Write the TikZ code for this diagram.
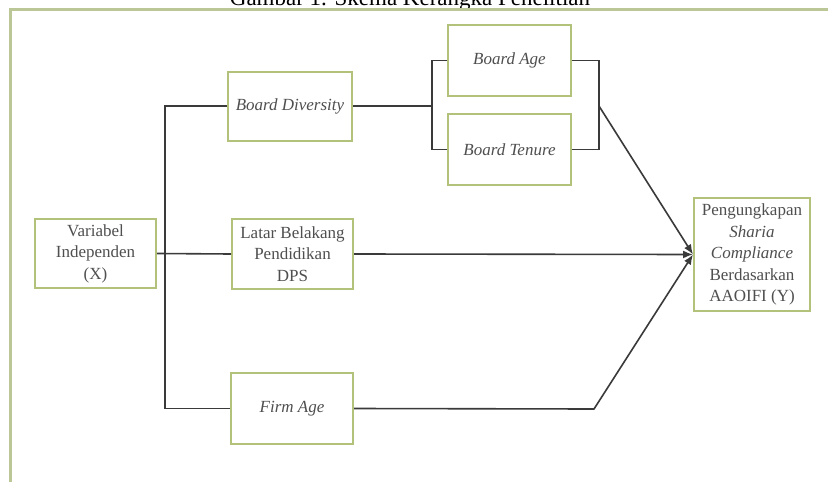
\documentclass[tikz,border=0pt]{standalone}
\usepackage{fontspec}
\setmainfont{Liberation Serif}
\usetikzlibrary{arrows.meta}
\definecolor{boxline}{HTML}{B3C27A}
\definecolor{frameline}{HTML}{BCC797}
\definecolor{conn}{HTML}{3A3A3A}
\definecolor{txt}{HTML}{4F4F4F}
\begin{document}
\begin{tikzpicture}[x=1pt,y=-1pt,
  vbox/.style={draw=boxline, line width=2pt, fill=white, inner sep=0pt,
    align=center, text=txt, font=\fontsize{17}{21.5}\selectfont},
  conline/.style={draw=conn, line width=1.6pt},
  arr/.style={conline, -{Latex[length=10pt,width=8pt]}}]
\useasboundingbox (0,0) rectangle (828,482);
\fill[white] (0,0) rectangle (828,482);
% title (cut off at the top, as in the reference)
\node[anchor=base, font=\fontsize{23}{27}\selectfont, text=black] (title) at (410,5) {Gambar 1. Skema Kerangka Penelitian};
% outer frame
\draw[frameline, line width=3pt] (10,490) -- (10,9) -- (840,9);
% boxes
\node[vbox, minimum width=121pt, minimum height=69pt] (X) at (95.5,253.5) {Variabel\\Independen\\(X)};
\node[vbox, minimum width=124pt, minimum height=69pt] (BD) at (290,106) {\itshape Board Diversity};
\node[vbox, minimum width=121pt, minimum height=70pt] (LB) at (292.5,254) {Latar Belakang\\Pendidikan\\DPS};
\node[vbox, minimum width=122pt, minimum height=71pt] (FA) at (292,408.5) {\itshape Firm Age};
\node[vbox, minimum width=123pt, minimum height=71pt] (BA) at (509.5,60.5) {\itshape Board Age};
\node[vbox, minimum width=123pt, minimum height=71pt] (BT) at (509.5,149.5) {\itshape Board Tenure};
\node[vbox, minimum width=116pt, minimum height=113pt] (Y) at (752,254.5) {Pengungkapan\\\textit{Sharia}\\\textit{Compliance}\\Berdasarkan\\AAOIFI (Y)};
% junction coordinates
\coordinate (j) at (165,254);
\coordinate (lb) at (432,106);
\coordinate (rb) at (599,106);
\coordinate (fk) at (594,409);
% connectors
\draw[conline] (X.east) -- (LB.west);
\draw[conline] (BD.west) -| (j) |- (FA.west);
\draw[conline] (BD.east) -- (lb);
\draw[conline] (BA.west) -| (lb) |- (BT.west);
\draw[conline] (BA.east) -| (rb) |- (BT.east);
\draw[arr] (rb) -- (Y.west);
\draw[arr] (LB.east) -- (Y.west);
\draw[arr, line join=round] (FA.east) -- (fk) -- (Y.west);
\end{tikzpicture}
\end{document}
